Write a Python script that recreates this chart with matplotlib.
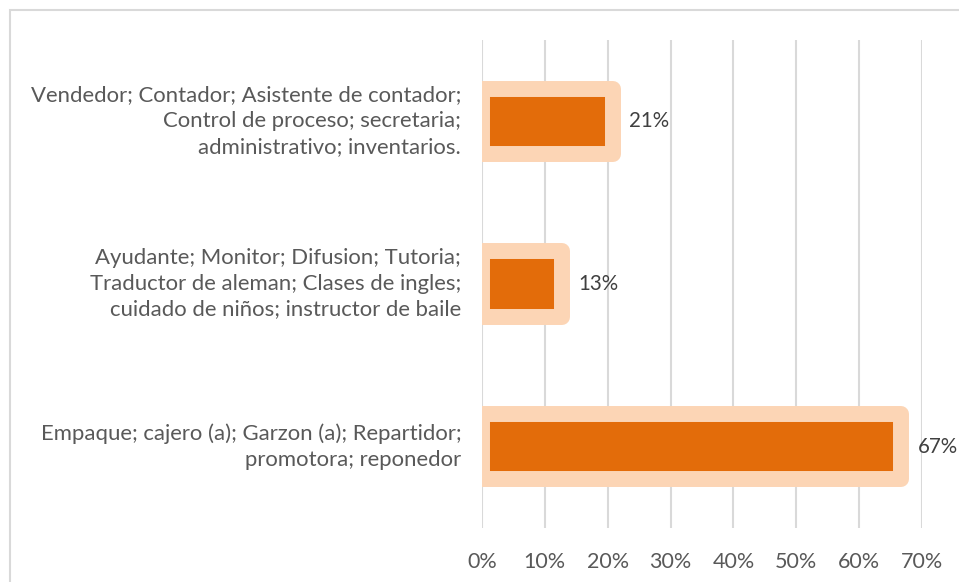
import matplotlib.pyplot as plt
from matplotlib.patches import Rectangle
from matplotlib.ticker import PercentFormatter
from matplotlib.transforms import ScaledTranslation

# Datos del gráfico (de arriba hacia abajo)
categorias = [
    "Vendedor; Contador; Asistente de contador;\nControl de proceso; secretaria;\nadministrativo; inventarios.",
    "Ayudante; Monitor; Difusion; Tutoria;\nTraductor de aleman; Clases de ingles;\ncuidado de niños; instructor de baile",
    "Empaque; cajero (a); Garzon (a); Repartidor;\npromotora; reponedor",
]
valores = [0.208, 0.127, 0.667]
ticks_x = [0, 0.1, 0.2, 0.3, 0.4, 0.5, 0.6, 0.7]

plt.rcParams['font.family'] = ['Lato', 'DejaVu Sans']

fig = plt.figure(figsize=(9.59, 5.82), dpi=100)
ax = fig.add_axes([482 / 959, 1 - 528 / 582, 440 / 959, 488 / 582])

# marco exterior gris
fig.patches.append(Rectangle((10 / 959, -0.1), 1.2, 1 - 10 / 582 + 0.1,
                             transform=fig.transFigure, fill=False,
                             edgecolor='#D9D9D9', linewidth=1.5))

pos = list(range(len(categorias)))[::-1]
barras = ax.barh(pos, valores, height=0.4, color='#E36C0A',
                 edgecolor='#FCD5B5', linewidth=11.5, zorder=3)
for b in barras:
    b.set_joinstyle('round')

for p, v in zip(pos, valores):
    ax.text(v + 0.026, p, f"{v * 100:.0f}%", va='center', ha='left',
            fontsize=14.8, color='#404040')

ax.set_xlim(0, 0.7)
ax.set_ylim(-0.5, 2.5)
ax.set_xticks(ticks_x)
ax.xaxis.set_major_formatter(PercentFormatter(1.0, decimals=0))
ax.set_yticks(pos)
ax.set_yticklabels(categorias, fontsize=15.9, color='#595959', linespacing=1.35)
ax.tick_params(axis='x', length=0, pad=17, labelsize=15.5, labelcolor='#595959')
ax.tick_params(axis='y', length=0, pad=15)
ax.grid(axis='x', color='#D9D9D9', linewidth=1.5, zorder=0)
for s in ax.spines.values():
    s.set_visible(False)

# subir un poco las etiquetas de categoria
sube = ScaledTranslation(0, 5 / 100, fig.dpi_scale_trans)
for lbl in ax.get_yticklabels():
    lbl.set_transform(lbl.get_transform() + sube)

fig.savefig('out.png', dpi=100)
